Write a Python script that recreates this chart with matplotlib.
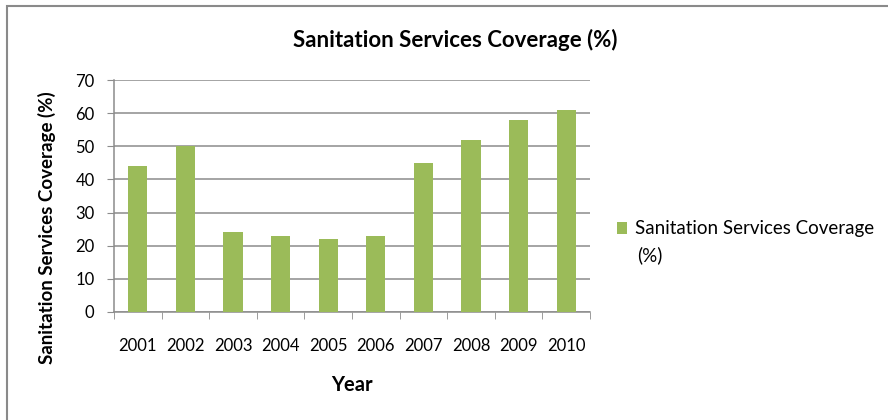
import matplotlib.pyplot as plt
from matplotlib.patches import Rectangle

# data
years = ['2001', '2002', '2003', '2004', '2005', '2006', '2007', '2008', '2009', '2010']
coverage = [44, 50, 24, 23, 22, 23, 45, 52, 58, 61]
yticks = [0, 10, 20, 30, 40, 50, 60, 70]

bar_color = '#9BBB59'
grid_color = '#8c8c8c'
plt.rcParams['font.family'] = ['Lato', 'DejaVu Sans']

W, H = 888, 420
fig = plt.figure(figsize=(W / 100, H / 100), dpi=100)

# outer chart border (only top and left edges show)
fig.patches.append(Rectangle((7 / W, -0.1), 1.2, 1.1 - 6.5 / H, transform=fig.transFigure,
                             fill=False, edgecolor='#8a8a8a', linewidth=1.5))

ax = fig.add_axes([114 / W, 1 - 312 / H, (590 - 114) / W, (312 - 80) / H])
x = range(len(years))
bars = ax.bar(x, coverage, width=0.4, color=bar_color, zorder=3)

ax.set_xlim(-0.5, len(years) - 0.5)
ax.set_ylim(0, 70)
ax.set_yticks(yticks)
ax.set_yticklabels([str(v) for v in yticks], fontsize=12)
ax.yaxis.grid(True, color=grid_color, linewidth=1.1, zorder=0)

ax.set_xticks(list(x))
ax.set_xticklabels(years, fontsize=12)
ax.tick_params(axis='x', length=0, pad=19)
ax.set_xticks([i - 0.5 for i in range(len(years) + 1)], minor=True)
ax.tick_params(axis='x', which='minor', length=5, color=grid_color, direction='out')
ax.tick_params(axis='y', length=5, color=grid_color, pad=9)

for s in ['top', 'right']:
    ax.spines[s].set_visible(False)
for s in ['left', 'bottom']:
    ax.spines[s].set_color(grid_color)
    ax.spines[s].set_linewidth(1.1)

fig.text(455 / W, 1 - 40 / H, 'Sanitation Services Coverage (%)', ha='center', va='center',
         fontsize=16, fontweight='bold')
fig.text(352 / W, 1 - 385 / H, 'Year', ha='center', va='center', fontsize=14.5, fontweight='bold')
fig.text(47 / W, 1 - 228 / H, 'Sanitation Services Coverage (%)', ha='center', va='center',
         rotation=90, fontsize=13.5, fontweight='bold')

# legend: marker sits on the first line, "(%)" wraps below
fig.legend(handles=[bars], labels=['Sanitation Services Coverage'],
           loc='center left', bbox_to_anchor=(617 / W, 1 - 229 / H), frameon=False,
           fontsize=13.5, handlelength=0.55, handleheight=0.55, handletextpad=0.4,
           borderaxespad=0, borderpad=0)
fig.text(637 / W, 1 - 255 / H, '(%)', ha='left', va='center', fontsize=13.5)

fig.savefig('out.png', dpi=100)
